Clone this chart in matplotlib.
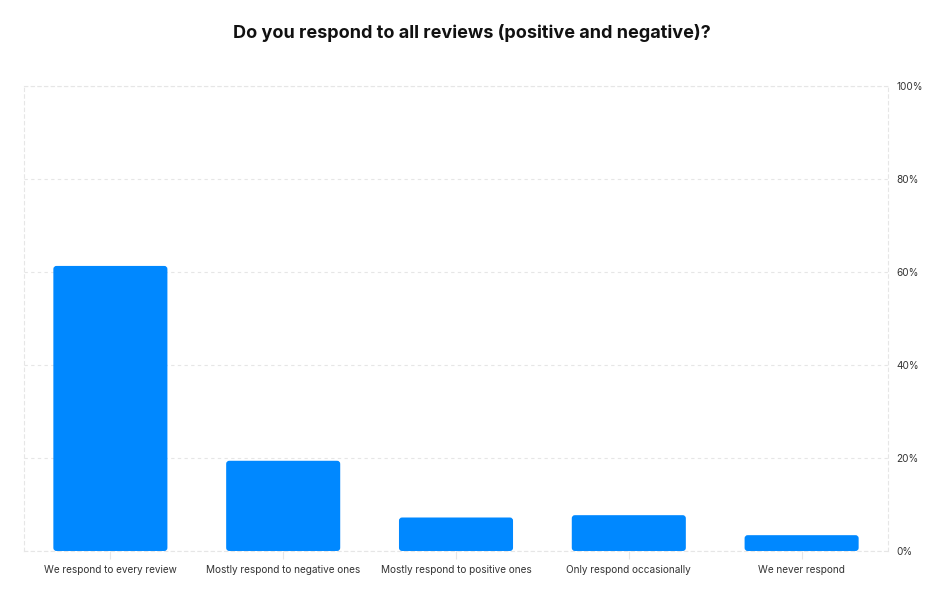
import matplotlib.pyplot as plt
from matplotlib.patches import FancyBboxPatch
from matplotlib.ticker import FuncFormatter

plt.rcParams['font.family'] = ['Inter', 'DejaVu Sans']

categories = ['We respond to every review', 'Mostly respond to negative ones',
              'Mostly respond to positive ones', 'Only respond occasionally',
              'We never respond']
values = [61.3, 19.4, 7.2, 7.7, 3.4]

fig = plt.figure(figsize=(9.44, 6), dpi=100)
ax = fig.add_axes([0.0254, 0.0817, 0.9153, 0.775])

bars = ax.bar(range(len(categories)), values, width=0.66, color='none')
# swap plain bars for ones with slightly rounded corners
for b in bars:
    x, y = b.get_x(), b.get_y()
    w, h = b.get_width(), b.get_height()
    b.remove()
    ax.add_patch(FancyBboxPatch((x, y), w, h,
                                boxstyle='round,pad=0,rounding_size=0.018',
                                mutation_aspect=37, fc='#0088ff', ec='none', zorder=3))

ax.set_xlim(-0.5, len(categories) - 0.5)
ax.set_ylim(0, 100)
ax.yaxis.tick_right()
ax.set_yticks([0, 20, 40, 60, 80, 100])
ax.yaxis.set_major_formatter(FuncFormatter(lambda v, p: f'{v:.0f}%'))
ax.set_xticks(range(len(categories)))
ax.set_xticklabels(categories)
ax.tick_params(axis='x', length=6, color='#e6e6e6', labelsize=7.2, labelcolor='#333333', pad=4)
ax.tick_params(axis='y', length=0, labelsize=7.2, labelcolor='#333333', pad=6)

ax.grid(axis='y', linestyle=(0, (3, 3)), color='#e6e6e6', linewidth=0.8, zorder=0)
ax.set_axisbelow(True)
for s in ax.spines.values():
    s.set_linestyle((0, (3, 3)))
    s.set_color('#e6e6e6')
    s.set_linewidth(0.8)

fig.text(0.5, 0.945, 'Do you respond to all reviews (positive and negative)?',
         ha='center', va='center', fontsize=13, fontweight='bold', color='#111111')

fig.savefig('out.png', dpi=100)
